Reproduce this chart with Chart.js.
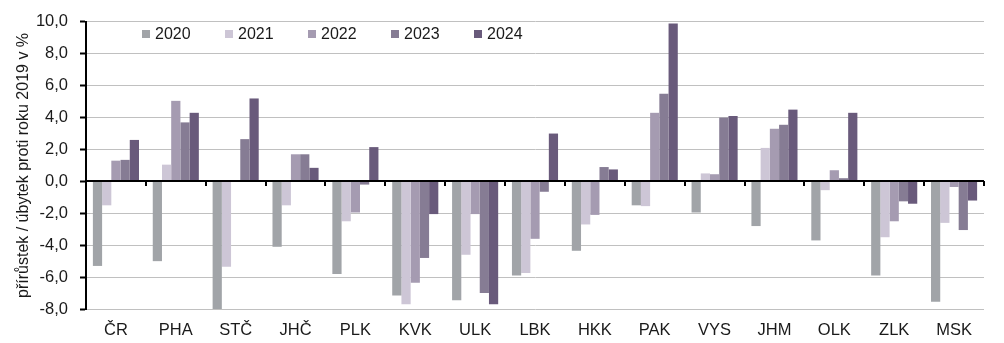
<!DOCTYPE html>
<html>
<head>
<meta charset="utf-8">
<script src="https://cdn.jsdelivr.net/npm/chart.js@4"></script>
<style>
  body { margin: 0; background: #fff; }
  #wrap { position: relative; width: 1004px; height: 343px; }
  #legend { position: absolute; left: 142px; top: 25px; display: flex; font: 16px "Liberation Sans", Arial, sans-serif; color: #1a1a1a; }
  #legend span { display: flex; align-items: center; width: 83px; }
  #legend i { display: inline-block; width: 8px; height: 8px; margin-right: 5px; }
</style>
</head>
<body>
<div id="wrap">
  <canvas id="chart" width="1004" height="343"></canvas>
  <div id="legend"></div>
</div>
<script>
const regions = ["ČR", "PHA", "STČ", "JHČ", "PLK", "KVK", "ULK", "LBK", "HKK", "PAK", "VYS", "JHM", "OLK", "ZLK", "MSK"];
const years = ["2020", "2021", "2022", "2023", "2024"];
const colors = ["#a1a4a8", "#cdc6d6", "#a59bb1", "#867c94", "#695a7b"];

const y2020 = [-5.3, -5.0, -8.0, -4.1, -5.8, -7.15, -7.45, -5.9, -4.35, -1.5, -1.95, -2.8, -3.7, -5.9, -7.55];
const y2021 = [-1.5, 1.05, -5.35, -1.5, -2.5, -7.7, -4.6, -5.75, -2.7, -1.55, 0.5, 2.1, -0.55, -3.5, -2.6];
const y2022 = [1.3, 5.05, 0.0, 1.7, -1.95, -6.35, -2.05, -3.6, -2.1, 4.3, 0.45, 3.3, 0.7, -2.5, -0.35];
const y2023 = [1.35, 3.7, 2.65, 1.7, -0.2, -4.8, -7.0, -0.65, 0.9, 5.5, 4.0, 3.55, 0.2, -1.25, -3.05];
const y2024 = [2.6, 4.3, 5.2, 0.85, 2.15, -2.05, -7.7, 3.0, 0.75, 9.9, 4.1, 4.5, 4.3, -1.4, -1.2];
const series = [y2020, y2021, y2022, y2023, y2024];

const yTicks = { min: -8, max: 10, step: 2 };
const axisTitle = "přírůstek / úbytek proti roku 2019 v %";
const font = "'Liberation Sans', Arial, sans-serif";

const el = id => document.getElementById(id);
el("legend").innerHTML = years.map((y, i) =>
  `<span><i style="background:${colors[i]}"></i>${y}</span>`).join("");

// small tick marks on the zero line between categories
const zeroTicks = {
  id: "zeroTicks",
  afterDatasetsDraw(chart) {
    const { ctx, scales: { x, y } } = chart;
    const y0 = Math.round(y.getPixelForValue(0));
    ctx.save();
    ctx.strokeStyle = "#000";
    ctx.lineWidth = 2;
    ctx.beginPath();
    ctx.moveTo(x.left, y0);
    ctx.lineTo(x.right, y0);
    for (let i = 0; i <= regions.length; i++) {
      const px = Math.round(x.left + (x.right - x.left) * i / regions.length);
      ctx.moveTo(px, y0);
      ctx.lineTo(px, y0 + 5);
    }
    ctx.stroke();
    ctx.restore();
  }
};

new Chart(el("chart"), {
  type: "bar",
  data: {
    labels: regions,
    datasets: years.map((y, i) => ({
      label: y, data: series[i], backgroundColor: colors[i],
      categoryPercentage: 0.77, barPercentage: 1
    }))
  },
  options: {
    responsive: false,
    animation: false,
    devicePixelRatio: 1,
    layout: { padding: { top: 15, right: 20, left: 0, bottom: 0 } },
    plugins: { legend: { display: false }, tooltip: { enabled: false } },
    scales: {
      x: {
        grid: { display: false },
        border: { display: false },
        ticks: { color: "#1a1a1a", font: { family: font, size: 16.5 }, padding: 4 },
        afterFit: s => { s.height = 34; }
      },
      y: {
        min: yTicks.min, max: yTicks.max,
        ticks: {
          stepSize: yTicks.step, color: "#1a1a1a", padding: 12,
          font: { family: font, size: 16.5 },
          callback: v => v.toFixed(1).replace(".", ",")
        },
        grid: { color: "#c0c0c0", lineWidth: 1, tickColor: "#000", tickLength: 6, tickWidth: 2 },
        border: { color: "#000", width: 2 },
        title: { display: true, text: axisTitle, color: "#1a1a1a", font: { family: font, size: 16 }, padding: { top: 14, bottom: 0 } },
        afterFit: s => { s.width = 86; }
      }
    }
  },
  plugins: [zeroTicks]
});
</script>
</body>
</html>
